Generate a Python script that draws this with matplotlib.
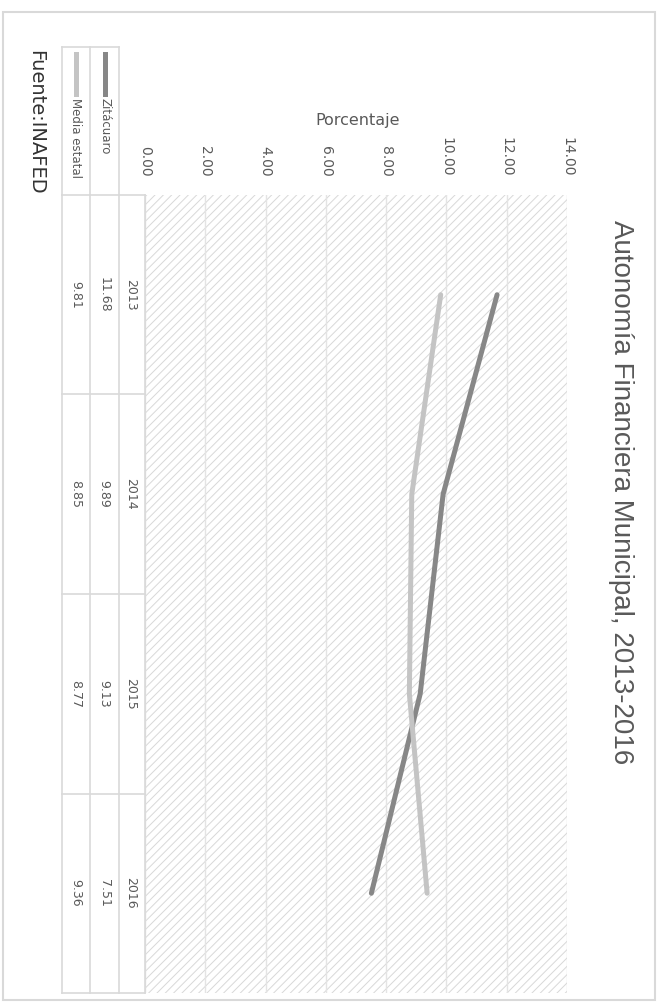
import matplotlib
matplotlib.use('Agg')
import matplotlib.pyplot as plt
import matplotlib.transforms as mtransforms
from matplotlib.patches import Rectangle
from matplotlib.lines import Line2D

# datos
anios = ['2013', '2014', '2015', '2016']
zitacuaro = [11.68, 9.89, 9.13, 7.51]
media_estatal = [9.81, 8.85, 8.77, 9.36]
nombres = ['Zitácuaro', 'Media estatal']
ticks_valores = [0, 2, 4, 6, 8, 10, 12, 14]
titulo = 'Autonomía Financiera Municipal, 2013-2016'
fuente = 'Fuente:INAFED'

W, H = 658, 1005
plt.rcParams['font.family'] = ['DejaVu Sans']
plt.rcParams['hatch.linewidth'] = 0.7

gris_texto = '#595959'
gris_linea = '#d9d9d9'
col_zit = '#878787'
col_med = '#c4c4c4'

fig = plt.figure(figsize=(W / 100, H / 100), dpi=100)


def fx(x):
    return x / W


def fy(y):
    return 1 - y / H


# el grafico esta girado 90 grados: valores en horizontal, anios en vertical
x0, x1, y0, y1 = 145, 567, 195, 993
ax = fig.add_axes([fx(x0), fy(y1), (x1 - x0) / W, (y1 - y0) / H])
ax.add_patch(Rectangle((0, 0), 1, 1, transform=ax.transAxes, facecolor='white',
                       edgecolor='#d8d8d8', hatch='////', linewidth=0, zorder=0))

pos = list(range(len(anios)))
ax.plot(zitacuaro, pos, color=col_zit, lw=3.6, solid_capstyle='round', zorder=3)
ax.plot(media_estatal, pos, color=col_med, lw=3.6, solid_capstyle='round', zorder=3)

ax.set_xticks(ticks_valores)
ax.set_xticklabels([f'{v:.2f}' for v in ticks_valores], rotation=-90,
                   color=gris_texto, fontsize=10)
ax.xaxis.tick_top()
ax.tick_params(axis='x', length=0, pad=13)
ax.set_yticks([])
ax.grid(axis='x', color='#e4e4e4', lw=1)
ax.set_axisbelow(True)
for s in ax.spines.values():
    s.set_visible(False)

fig.text(fx(358), fy(120), 'Porcentaje', ha='center', va='center',
         color=gris_texto, fontsize=11.5)

# tabla de datos (filas giradas)
tr = mtransforms.blended_transform_factory(ax.transAxes, ax.transData)


def ax_x(px):
    return (px - x0) / (x1 - x0)


col_x = [ax_x(62), ax_x(90), ax_x(119), ax_x(145)]
for x in col_x:
    ax.add_line(Line2D([x, x], [-0.5, len(anios) - 0.5], transform=tr,
                       color=gris_linea, lw=1.2, clip_on=False))
for i in range(len(anios) + 1):
    ax.add_line(Line2D([col_x[0], col_x[-1]], [i - 0.5, i - 0.5], transform=tr,
                       color=gris_linea, lw=1.2, clip_on=False))
for i, (a, z, m) in enumerate(zip(anios, zitacuaro, media_estatal)):
    ax.text(ax_x(131), i, a, transform=tr, rotation=-90, ha='center', va='center',
            color=gris_texto, fontsize=9)
    ax.text(ax_x(104), i, f'{z:.2f}', transform=tr, rotation=-90, ha='center',
            va='center', color=gris_texto, fontsize=9)
    ax.text(ax_x(76), i, f'{m:.2f}', transform=tr, rotation=-90, ha='center',
            va='center', color=gris_texto, fontsize=9)

ax.set_xlim(0, 14)
ax.set_ylim(len(anios) - 0.5, -0.5)

# cabecera de la leyenda
for x in [62, 90, 119]:
    fig.add_artist(Line2D([fx(x), fx(x)], [fy(47), fy(195)], color=gris_linea, lw=1.2))
fig.add_artist(Line2D([fx(62), fx(119)], [fy(47), fy(47)], color=gris_linea, lw=1.2))
for nombre, xc, col in [(nombres[0], 105, col_zit), (nombres[1], 76, col_med)]:
    fig.add_artist(Line2D([fx(xc), fx(xc)], [fy(54), fy(94)], color=col, lw=3.6))
    fig.text(fx(xc), fy(98), nombre, rotation=-90, ha='center', va='top',
             color=gris_texto, fontsize=8.5)

fig.text(fx(36), fy(50), fuente, rotation=-90, ha='center', va='top',
         color='#333333', fontsize=14)

fig.text(fx(621), fy(492), titulo, rotation=-90, ha='center', va='center',
         color=gris_texto, fontsize=20, family=['Liberation Sans', 'DejaVu Sans'])

# marco exterior
fig.add_artist(Rectangle((fx(3), fy(1000)), fx(652), 988 / H, transform=fig.transFigure,
                         fill=False, edgecolor=gris_linea, lw=1.5))

fig.savefig('out.png', dpi=100)
